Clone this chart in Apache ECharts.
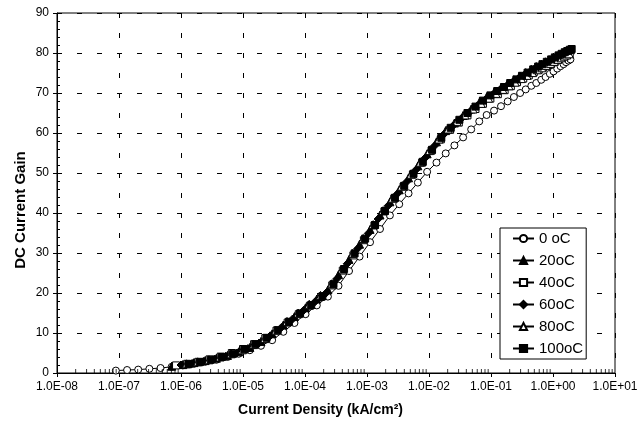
<!DOCTYPE html>
<html><head><meta charset="utf-8">
<script src="https://cdn.jsdelivr.net/npm/echarts@6/dist/echarts.min.js"></script>
<style>html,body{margin:0;padding:0;background:#fff}#c{width:641px;height:432px}</style>
</head><body><div id="c"></div>
<script>
const seriesNames = ['0 oC', '20oC', '40oC', '60oC', '80oC', '100oC'];
const xTitle = 'Current Density (kA/cm²)';
const yTitle = 'DC Current Gain';

const j0 = [8.9e-8,1.35e-7,2.04e-7,3.09e-7,4.68e-7,7.08e-7,1.07e-6,1.62e-6,2.45e-6,3.72e-6,5.62e-6,8.51e-6,1.29e-5,1.95e-5,2.95e-5,4.47e-5,6.76e-5,1.02e-4,1.55e-4,2.34e-4,3.47e-4,5.13e-4,7.59e-4,1.12e-3,1.62e-3,2.34e-3,3.31e-3,4.68e-3,6.61e-3,9.33e-3,1.32e-2,1.86e-2,2.57e-2,3.55e-2,4.79e-2,6.46e-2,8.51e-2,0.112,0.145,0.186,0.234,0.295,0.363,0.447,0.537,0.646,0.759,0.891,1.02,1.17,1.32,1.48,1.62,1.78,1.91];
const g0 = [0.6,0.75,0.85,1.05,1.25,1.55,1.9,2.3,2.8,3.3,4.0,4.8,5.7,6.8,8.2,10.3,12.5,14.7,16.9,19.1,21.8,25.5,29.1,32.7,36.0,39.4,42.2,44.9,47.6,50.3,52.6,54.9,56.9,58.9,60.9,62.9,64.5,65.6,66.7,67.9,69.0,70.0,70.9,71.8,72.5,73.3,74.0,74.8,75.4,76.1,76.7,77.2,77.7,78.1,78.4];

const j20 = [7.08e-7,1.07e-6,1.62e-6,2.45e-6,3.72e-6,5.62e-6,8.51e-6,1.29e-5,1.95e-5,2.95e-5,4.47e-5,6.76e-5,1.02e-4,1.55e-4,2.34e-4,3.47e-4,5.13e-4,7.59e-4,1.12e-3,1.62e-3,2.34e-3,3.31e-3,4.68e-3,6.61e-3,9.33e-3,1.32e-2,1.86e-2,2.57e-2,3.55e-2,4.79e-2,6.46e-2,8.51e-2,0.112,0.145,0.186,0.234,0.295,0.363,0.447,0.537,0.646,0.759,0.891,1.02,1.17,1.32,1.48,1.62,1.78,1.91];
const g20 = [1.7,2.1,2.6,3.1,3.7,4.4,5.3,6.4,7.9,9.8,12.0,14.1,16.3,18.5,20.8,24.6,28.4,32.2,35.9,39.5,42.8,45.8,48.8,51.8,54.8,57.8,60.6,62.5,64.4,66.0,67.6,69.0,70.2,71.3,72.3,73.3,74.2,75.1,75.9,76.6,77.2,77.8,78.3,78.8,79.3,79.6,80.0,80.3,80.6,80.8];

const j40 = [8.32e-7,1.26e-6,1.91e-6,2.88e-6,4.37e-6,6.61e-6,1.00e-5,1.51e-5,2.29e-5,3.47e-5,5.25e-5,7.94e-5,1.20e-4,1.82e-4,2.75e-4,4.07e-4,6.03e-4,8.91e-4,1.32e-3,1.91e-3,2.75e-3,3.89e-3,5.50e-3,7.76e-3,1.10e-2,1.55e-2,2.19e-2,3.02e-2,4.17e-2,5.62e-2,7.41e-2,9.77e-2,0.129,0.166,0.209,0.263,0.331,0.407,0.490,0.589,0.692,0.813,0.955,1.10,1.23,1.38,1.55,1.70,1.86];
const g40 = [1.9,2.3,2.8,3.4,4.1,5.0,6.0,7.2,8.7,10.6,12.6,14.7,16.8,19.0,21.9,25.6,29.4,33.2,36.9,40.4,43.6,46.6,49.6,52.6,55.6,58.4,60.8,62.6,64.4,66.0,67.3,68.6,69.7,70.7,71.7,72.7,73.6,74.4,75.2,75.8,76.4,77.0,77.6,78.1,78.5,78.9,79.3,79.6,79.9];

const j60 = [1.00e-6,1.51e-6,2.29e-6,3.47e-6,5.25e-6,7.94e-6,1.20e-5,1.82e-5,2.75e-5,4.17e-5,6.31e-5,9.55e-5,1.45e-4,2.19e-4,3.24e-4,4.79e-4,7.08e-4,1.05e-3,1.51e-3,2.19e-3,3.09e-3,4.37e-3,6.17e-3,8.71e-3,1.23e-2,1.74e-2,2.40e-2,3.31e-2,4.47e-2,6.03e-2,7.94e-2,0.105,0.135,0.174,0.219,0.275,0.339,0.417,0.501,0.603,0.708,0.832,0.955,1.10,1.23,1.38,1.51,1.66,1.82,1.95];
const g60 = [2.0,2.4,2.9,3.5,4.2,5.0,6.1,7.5,9.3,11.4,13.5,15.7,17.8,20.0,23.5,27.3,31.1,34.9,38.5,41.8,44.8,47.8,50.8,53.8,56.8,59.7,61.7,63.6,65.2,66.8,68.2,69.5,70.6,71.6,72.6,73.6,74.4,75.2,76.0,76.6,77.1,77.7,78.1,78.6,79.0,79.4,79.7,80.0,80.3,80.5];

const j80 = [1.23e-6,1.86e-6,2.82e-6,4.27e-6,6.46e-6,9.77e-6,1.48e-5,2.24e-5,3.39e-5,5.13e-5,7.76e-5,1.17e-4,1.78e-4,2.69e-4,3.98e-4,5.89e-4,8.71e-4,1.26e-3,1.82e-3,2.57e-3,3.63e-3,5.13e-3,7.24e-3,1.02e-2,1.45e-2,2.04e-2,2.82e-2,3.80e-2,5.13e-2,6.92e-2,9.12e-2,0.120,0.155,0.195,0.245,0.309,0.380,0.468,0.562,0.661,0.776,0.912,1.05,1.20,1.35,1.51,1.66,1.82];
const g80 = [2.3,2.8,3.3,4.0,4.8,5.8,7.1,8.6,10.7,12.9,15.0,17.2,19.4,22.3,26.0,29.9,33.6,37.1,40.6,43.7,46.7,49.7,52.7,55.6,58.5,61.0,62.9,64.5,66.0,67.4,68.7,69.9,70.9,71.8,72.7,73.6,74.4,75.1,75.8,76.3,76.9,77.4,77.9,78.4,78.8,79.2,79.5,79.8];

const j100 = [1.32e-6,2.00e-6,3.02e-6,4.57e-6,6.92e-6,1.05e-5,1.58e-5,2.40e-5,3.63e-5,5.50e-5,8.32e-5,1.26e-4,1.91e-4,2.88e-4,4.27e-4,6.31e-4,9.33e-4,1.35e-3,1.95e-3,2.82e-3,3.98e-3,5.62e-3,7.94e-3,1.12e-2,1.58e-2,2.24e-2,3.09e-2,4.17e-2,5.62e-2,7.41e-2,9.77e-2,0.126,0.162,0.204,0.257,0.316,0.389,0.479,0.575,0.676,0.794,0.933,1.07,1.23,1.38,1.55,1.70,1.86,2.00];
const g100 = [2.2,2.7,3.3,4.0,4.8,5.9,7.2,8.8,10.7,12.8,14.9,17.0,19.2,22.2,26.0,29.9,33.6,37.0,40.5,43.8,46.8,49.8,52.8,55.8,58.8,61.3,63.3,65.0,66.6,68.1,69.4,70.5,71.5,72.5,73.4,74.3,75.1,75.9,76.6,77.2,77.8,78.4,78.9,79.4,79.8,80.2,80.5,80.8,81.0];

const xMin = 1e-8, xMax = 10;
const yMin = 0, yMax = 90, yStep = 10;

const FONT = 'Arial, "Liberation Sans", sans-serif';
const zip = (a, b) => a.map((v, i) => [v, b[i]]);
function sci(v) {
  const e = Math.round(Math.log10(v));
  return '1.0E' + (e < 0 ? '-' : '+') + String(Math.abs(e)).padStart(2, '0');
}

// minor tick positions of the log axis (2..9 per decade)
const minorTicks = [];
for (let e = -8; e < 1; e++) for (let k = 2; k <= 9; k++) minorTicks.push([k * Math.pow(10, e), 0]);

const styles = [
  {symbol: 'circle', size: 7, fill: '#fff'},
  {symbol: 'triangle', size: 8, fill: '#000'},
  {symbol: 'rect', size: 7, fill: '#fff'},
  {symbol: 'diamond', size: 8, fill: '#000'},
  {symbol: 'triangle', size: 8, fill: '#fff'},
  {symbol: 'rect', size: 7, fill: '#000'}
];
const data = [zip(j0, g0), zip(j20, g20), zip(j40, g40), zip(j60, g60), zip(j80, g80), zip(j100, g100)];

const series = data.map((d, i) => ({
  name: seriesNames[i], type: 'line', data: d,
  symbol: styles[i].symbol, symbolSize: styles[i].size, showAllSymbol: true,
  lineStyle: {color: '#000', width: 1},
  itemStyle: {color: styles[i].fill, borderColor: '#000', borderWidth: 1},
  emphasis: {disabled: true}, animation: false, z: 3
}));
series.push({
  type: 'scatter', data: minorTicks, symbol: 'rect', symbolSize: [1, 4], symbolOffset: [0, -2],
  itemStyle: {color: '#000'}, silent: true, animation: false, z: 4, clip: false
});

const chart = echarts.init(document.getElementById('c'));
chart.setOption({
  backgroundColor: '#fff',
  animation: false,
  grid: {left: 57, right: 26, top: 13, bottom: 59, show: true, borderColor: '#000', borderWidth: 1},
  legend: {
    data: seriesNames, orient: 'vertical', left: 500, top: 228,
    itemWidth: 21, itemHeight: 9, itemGap: 7, padding: [3, 3, 3, 12],
    borderColor: '#000', borderWidth: 1, backgroundColor: '#fff',
    textStyle: {fontFamily: FONT, fontSize: 15, color: '#000'}
  },
  graphic: [
    {type: 'text', left: 'center', top: 403, style: {text: xTitle, fontFamily: FONT, fontSize: 14, fontWeight: 'bold', fill: '#000'}},
    {type: 'text', x: 21, y: 210, rotation: Math.PI / 2, style: {text: yTitle, fontFamily: FONT, fontSize: 15, fontWeight: 'bold', fill: '#000', align: 'center', verticalAlign: 'middle'}}
  ],
  xAxis: {
    type: 'log', logBase: 10, min: xMin, max: xMax,
    axisLine: {lineStyle: {color: '#000', width: 1}},
    axisTick: {show: true, length: 4, lineStyle: {color: '#000'}},
    axisLabel: {formatter: sci, fontFamily: FONT, fontSize: 12, color: '#000', margin: 8},
    splitLine: {show: true, lineStyle: {color: '#000', type: [5, 15], width: 1}}
  },
  yAxis: [{
    type: 'value', min: yMin, max: yMax, interval: yStep,
    axisLine: {show: true, lineStyle: {color: '#000', width: 1}},
    axisTick: {show: true, length: 4, lineStyle: {color: '#000'}},
    axisLabel: {fontFamily: FONT, fontSize: 12, color: '#000', margin: 8},
    splitLine: {show: true, lineStyle: {color: '#000', type: [5, 15], width: 1}}
  }, {
    type: 'value', min: yMin, max: yMax, interval: yStep, position: 'left',
    axisLine: {show: false}, axisLabel: {show: false}, splitLine: {show: false},
    axisTick: {show: true, inside: true, length: 4, lineStyle: {color: '#000'}},
    minorTick: {show: true, splitNumber: 5, length: 3, lineStyle: {color: '#000'}}
  }],
  series: series
});
</script></body></html>
